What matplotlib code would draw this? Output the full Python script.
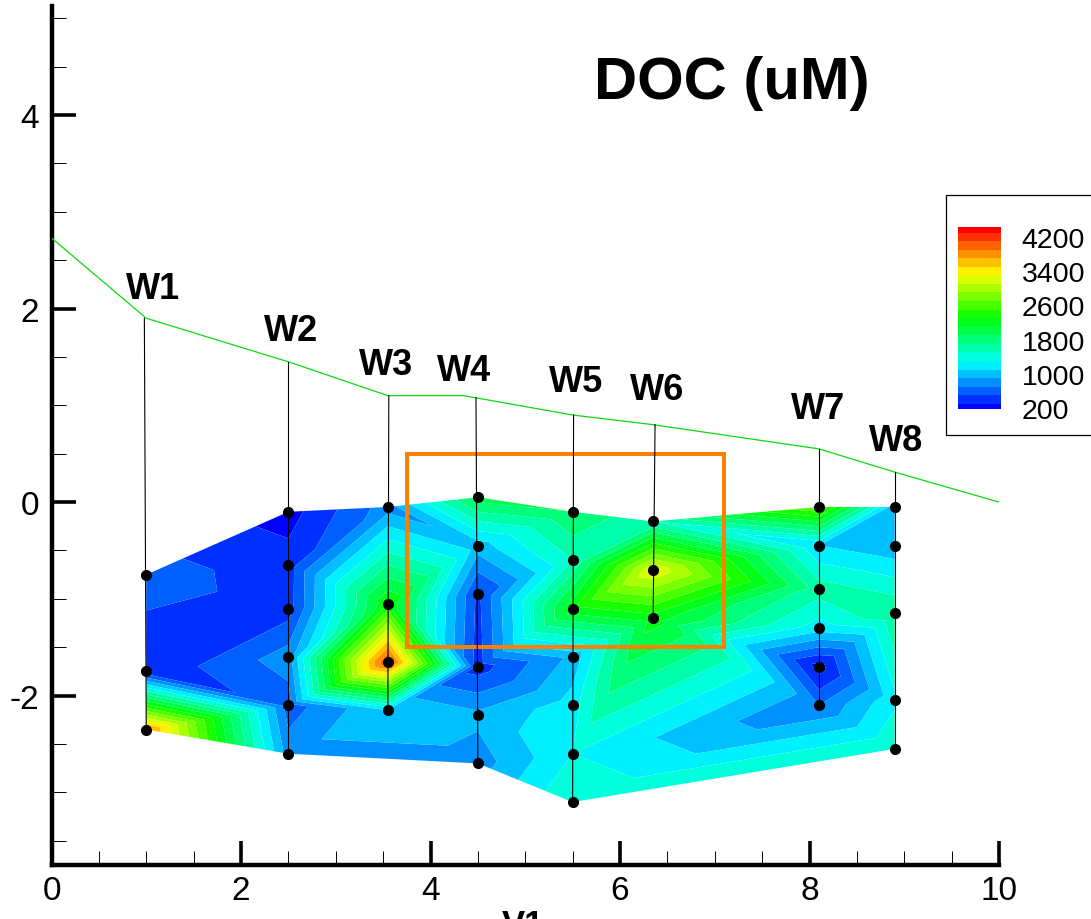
import numpy as np
import matplotlib
matplotlib.use('Agg')
import matplotlib.pyplot as plt
import matplotlib.tri as mtri
from matplotlib.colors import LinearSegmentedColormap
from matplotlib.patches import Rectangle
from matplotlib.path import Path

plt.rcParams['font.family'] = ['Liberation Sans', 'DejaVu Sans']

# ---- data ----
well_names = ['W1', 'W2', 'W3', 'W4', 'W5', 'W6', 'W7', 'W8']
well_x = [1.0, 2.5, 3.55, 4.5, 5.5, 6.35, 8.1, 8.9]
line_x = [0.98, 2.5, 3.56, 4.48, 5.51, 6.37, 8.1, 8.9]
line_top = [1.9, 1.45, 1.1, 1.08, 0.9, 0.8, 0.55, 0.31]

depth_w1 = [-0.75, -1.75, -2.35]
depth_w2 = [-0.10, -0.65, -1.10, -1.60, -2.10, -2.60]
depth_w3 = [-0.05, -1.05, -1.65, -2.15]
depth_w4 = [0.05, -0.45, -0.95, -1.70, -2.20, -2.70]
depth_w5 = [-0.10, -0.60, -1.10, -1.60, -2.10, -2.60, -3.10]
depth_w6 = [-0.20, -0.70, -1.20]
depth_w7 = [-0.05, -0.45, -0.90, -1.30, -1.70, -2.10]
depth_w8 = [-0.05, -0.45, -1.15, -2.05, -2.55]

doc_w1 = [600, 330, 3800]
doc_w2 = [210, 390, 400, 800, 600, 800]
doc_w3 = [800, 2300, 4150, 1100]
doc_w4 = [2000, 1000, 450, 400, 950, 800]
doc_w5 = [1900, 1500, 2250, 950, 1200, 1300, 1500]
doc_w6 = [1500, 3300, 2200]
doc_w7 = [2700, 1100, 1600, 1200, 200, 700]
doc_w8 = [950, 950, 1700, 1250, 1500]

surface_x = [0, 1, 2.5, 3.55, 4.35, 5.5, 6.35, 8.1, 8.9, 10]
surface_y = [2.73, 1.9, 1.45, 1.1, 1.1, 0.9, 0.8, 0.55, 0.31, 0]

box_x = [3.75, 7.1, 7.1, 3.75, 3.75]
box_y = [0.5, 0.5, -1.5, -1.5, 0.5]

label_x = [1.07, 2.53, 3.53, 4.35, 5.54, 6.39, 8.09, 8.91]
label_y = [2.21, 1.77, 1.42, 1.36, 1.25, 1.16, 0.97, 0.64]

band_centres = np.arange(200, 4401, 200)
legend_ticks = [200, 1000, 1800, 2600, 3400, 4200]

depths = [depth_w1, depth_w2, depth_w3, depth_w4, depth_w5, depth_w6, depth_w7, depth_w8]
docs = [doc_w1, doc_w2, doc_w3, doc_w4, doc_w5, doc_w6, doc_w7, doc_w8]

x = np.concatenate([[wx] * len(d) for wx, d in zip(well_x, depths)])
y = np.concatenate(depths)
z = np.concatenate(docs)

# ---- colours: plain rainbow, one flat colour per band ----
rainbow = LinearSegmentedColormap.from_list(
    'rainbow4', ['#0000ff', '#00ffff', '#00ff00', '#ffff00', '#ff0000'])
band_edges = np.append(band_centres - 100, band_centres[-1] + 100)
band_colors = [rainbow((c - 200) / 4200) for c in band_centres]

fig = plt.figure(figsize=(10.91, 9.2), dpi=100)
ax = fig.add_axes([51.5 / 1091, (920 - 866) / 920, (999 - 51.5) / 1091, (866 - 7) / 920])

# ---- triangulate and drop triangles outside the sampled outline ----
tri = mtri.Triangulation(x, y)
bottom_wells = [7, 4, 3, 1, 0]
outline = [(wx, d[0]) for wx, d in zip(well_x, depths)]
outline += [(well_x[i], depths[i][-1]) for i in bottom_wells]
centre_x = x[tri.triangles].mean(axis=1)
centre_y = y[tri.triangles].mean(axis=1)
inside = Path(outline).contains_points(np.column_stack([centre_x, centre_y]))
tri.set_mask(~inside)

ax.tricontourf(tri, z, levels=band_edges, colors=band_colors, antialiased=True, zorder=1)

ax.plot(box_x, box_y, color='#ff8000', linewidth=2.9, solid_joinstyle='miter', zorder=2)
ax.plot(surface_x, surface_y, color='#10d810', linewidth=0.9, zorder=3)
for lx, top, wx, d in zip(line_x, line_top, well_x, depths):
    ax.plot([lx, wx], [top, d[-1]], color='black', linewidth=0.8, zorder=3)
ax.plot(x, y, linestyle='None', marker='o', markersize=7, color='black', zorder=4)

for name, lx, ly in zip(well_names, label_x, label_y):
    ax.text(lx, ly, name, fontsize=26, fontweight='bold', ha='center', va='center')
ax.text(7.18, 4.34, 'DOC (uM)', fontsize=43, fontweight='bold', ha='center', va='center')

# ---- axes ----
ax.set_xlim(0, 10)
ax.set_ylim(-3.75, (503 - 7) / 96.75)
ax.set_xticks(np.arange(0, 11, 2))
ax.set_xticks(np.arange(0, 10.1, 0.5), minor=True)
ax.set_yticks([-2, 0, 2, 4])
ax.set_yticks(np.arange(-3.5, 5.1, 0.5), minor=True)
ax.spines['top'].set_visible(False)
ax.spines['right'].set_visible(False)
ax.spines['left'].set_linewidth(3.2)
ax.spines['bottom'].set_linewidth(3.2)
ax.tick_params(axis='both', which='major', direction='in', length=17, width=2.6, labelsize=24)
ax.tick_params(axis='both', which='minor', direction='in', length=10, width=0.7)
ax.tick_params(axis='x', which='major', pad=7)
ax.tick_params(axis='y', which='major', pad=9)
ax.set_yticklabels(['-2', '0', '2', '4'])

fig.text(523 / 1091, -15 / 920, 'V1', fontsize=25, fontweight='bold', ha='center', va='baseline')

# ---- legend box and colour key ----
fig.add_artist(Rectangle((946 / 1091, (920 - 436) / 920), 150 / 1091, 240 / 920,
                         transform=fig.transFigure, facecolor='white',
                         edgecolor='black', linewidth=0.9))
cax = fig.add_axes([958 / 1091, (920 - 410) / 920, 43 / 1091, 182 / 920])
cax.set_zorder(5)
cax.pcolormesh([0, 1], band_edges, np.array(band_centres)[:, None],
               cmap=rainbow, vmin=200, vmax=4400, shading='flat')
cax.set_ylim(177, 4430)
cax.set_xticks([])
cax.yaxis.tick_right()
cax.set_yticks(legend_ticks)
cax.tick_params(axis='y', length=0, pad=15, labelsize=20.5)
for s in cax.spines.values():
    s.set_visible(False)

fig.savefig('out.png', dpi=100)
